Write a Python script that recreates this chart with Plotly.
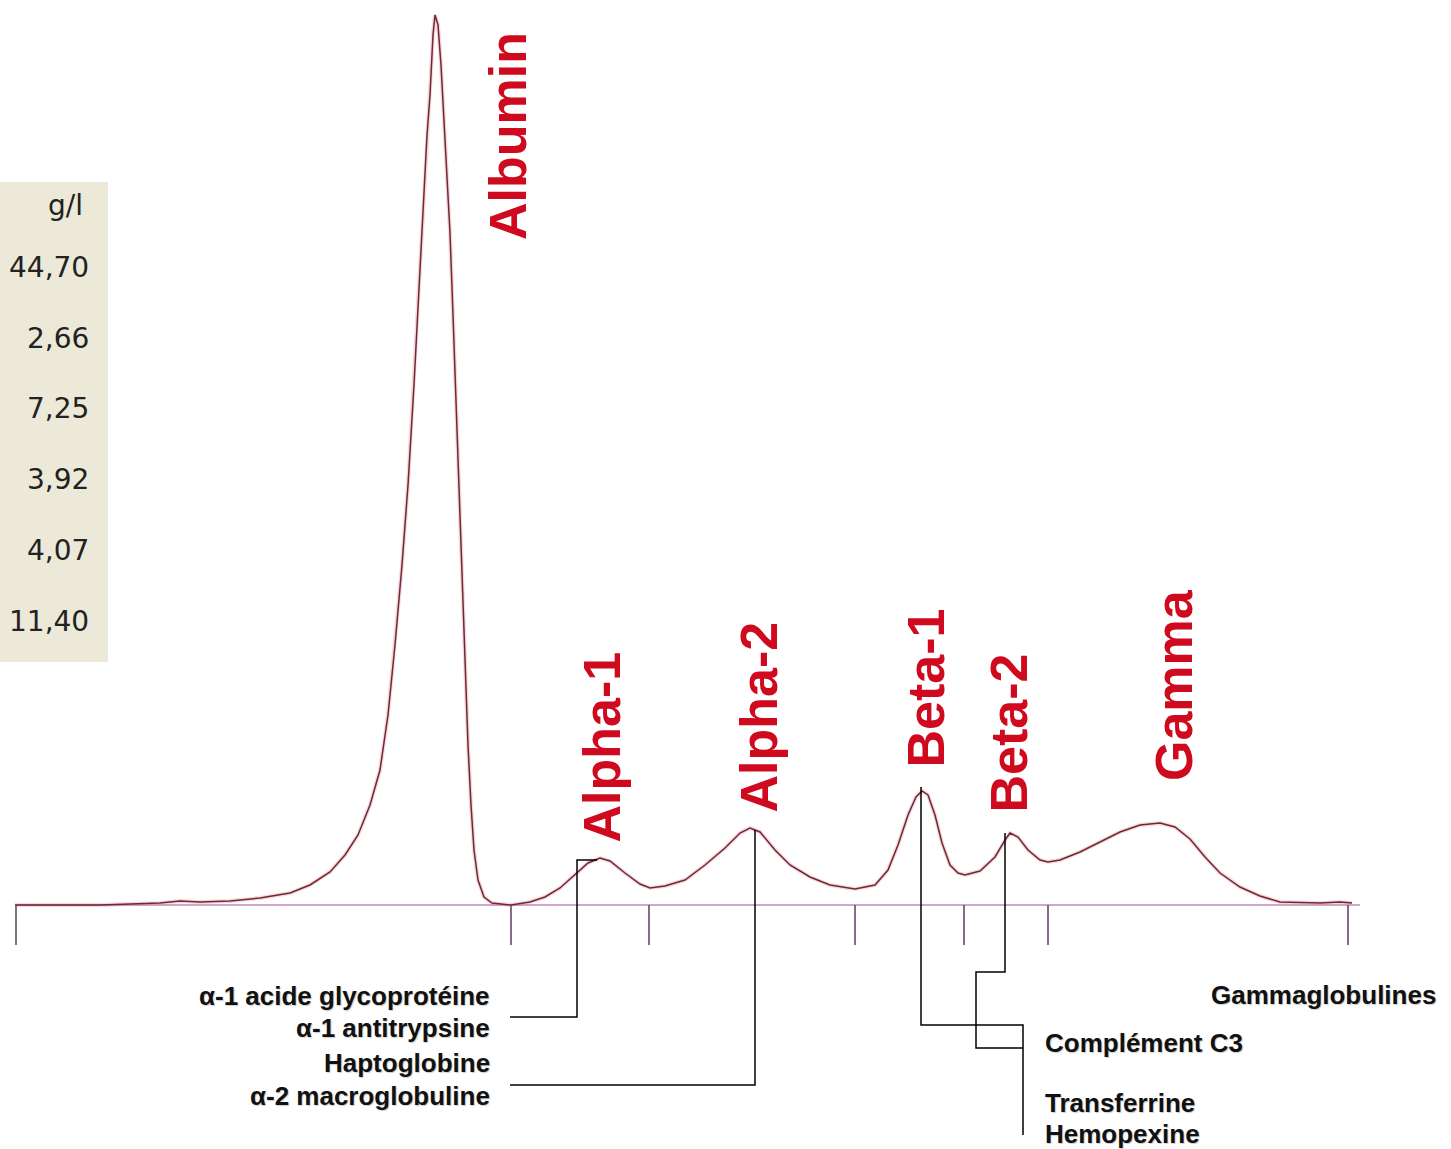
import plotly.graph_objects as go

# ---------------- data ----------------
# densitometry trace: migration position (px units) and density above baseline
pos = [15, 100, 160, 180, 200, 230, 260, 290, 310, 330, 345, 358, 370, 380, 388, 395,
       402, 408, 414, 419, 423, 427, 430, 433, 435, 438, 441, 443, 446, 450, 453, 456,
       459, 462, 465, 468, 471, 474, 478, 484, 492, 511, 530, 545, 560, 575, 588, 600,
       610, 625, 640, 650, 665, 685, 705, 725, 740, 750, 760, 775, 790, 810, 830, 855,
       875, 888, 898, 908, 916, 922, 928, 935, 942, 950, 958, 965, 980, 995, 1005, 1010,
       1018, 1028, 1040, 1048, 1060, 1080, 1100, 1120, 1140, 1160, 1175, 1190, 1205, 1220,
       1240, 1260, 1280, 1320, 1340, 1352]
density = [0, 0, 2, 4, 3, 4, 7, 12, 20, 33, 50, 70, 100, 135, 190, 260,
           340, 420, 520, 620, 690, 770, 810, 870, 890, 880, 840, 805, 750, 672, 590, 500,
           410, 320, 240, 160, 100, 55, 25, 8, 2, 0, 3, 8, 17, 30, 42, 47,
           44, 32, 21, 17, 19, 25, 40, 57, 72, 77, 73, 55, 40, 28, 20, 16,
           20, 35, 60, 90, 108, 114, 110, 90, 62, 40, 32, 30, 34, 48, 65, 72,
           68, 55, 45, 43, 45, 53, 63, 73, 80, 82, 78, 66, 48, 32,
           18, 9, 3, 2, 3, 2]

# fraction boundaries
boundaries = [16, 511, 649, 855, 964, 1048, 1348]

# fraction names and label positions (center x, bottom of rotated text)
fractions = ["Albumin", "Alpha-1", "Alpha-2", "Beta-1", "Beta-2", "Gamma"]
frac_x = [508, 601, 758, 925, 1008, 1174]
frac_y = [663, 60, 90, 135, 90, 122]

# panel values (g/l)
panel_unit = "g/l"
panel_values = ["44,70", "2,66", "7,25", "3,92", "4,07", "11,40"]
panel_y = [638, 567, 497, 426, 355, 284]

# protein labels
left_labels = ["α-1 acide glycoprotéine", "α-1 antitrypsine", "Haptoglobine", "α-2 macroglobuline"]
left_y = [-91, -123, -158, -191]
right_labels = ["Gammaglobulines", "Complément C3", "Transferrine", "Hemopexine"]
right_x = [1438, 1043, 1043, 1043]
right_y = [-90, -138, -198, -229]

# leader lines (x, y)
leaders = [
    ([510, 577, 577, 597], [-112, -112, 45, 45]),
    ([510, 755, 755], [-180, -180, 75]),
    ([921, 921, 1023, 1023], [118, -120, -120, -230]),
    ([1005, 1005, 976, 976, 1023], [72, -67, -67, -143, -143]),
]

RED = "#CF0A1E"

fig = go.Figure()

# baseline
fig.add_trace(go.Scatter(x=[15, 1360], y=[0, 0], mode="lines",
                         line=dict(color="#cfa6cc", width=2), hoverinfo="skip"))
# boundary ticks
for b in boundaries:
    fig.add_trace(go.Scatter(x=[b, b], y=[0, -40], mode="lines",
                             line=dict(color="#5b3d5c", width=1.5), hoverinfo="skip"))
# glow under trace
fig.add_trace(go.Scatter(x=pos, y=density, mode="lines",
                         line=dict(color="rgba(230,120,140,0.3)", width=4), hoverinfo="skip"))
# trace
fig.add_trace(go.Scatter(x=pos, y=density, mode="lines",
                         line=dict(color="#6e2a33", width=1.5), hoverinfo="skip"))
# leaders
for lx, ly in leaders:
    fig.add_trace(go.Scatter(x=lx, y=ly, mode="lines",
                             line=dict(color="black", width=1.5), hoverinfo="skip"))

# beige panel
fig.add_shape(type="rect", x0=0, x1=108, y0=243, y1=723, fillcolor="#ECE9D8",
              line=dict(width=0), layer="below")

SHADOW = "1px 1px 1px rgba(0,0,0,0.2)"
ann = []
ann.append(dict(x=65, y=700, text=panel_unit, showarrow=False, xanchor="center", yanchor="middle",
                font=dict(family="DejaVu Sans", size=28, color="#222")))
for v, y in zip(panel_values, panel_y):
    ann.append(dict(x=91, y=y, text=v, showarrow=False, xanchor="right", yanchor="middle",
                    font=dict(family="DejaVu Sans", size=28, color="#222")))
for t, x, y in zip(fractions, frac_x, frac_y):
    ann.append(dict(x=x, y=y, text="<b>" + t + "</b>", showarrow=False, textangle=-90,
                    xanchor="center", yanchor="bottom",
                    font=dict(family="Liberation Sans, Arial", size=52, color=RED)))
for t, y in zip(left_labels, left_y):
    ann.append(dict(x=492, y=y, text="<b>" + t + "</b>", showarrow=False,
                    xanchor="right", yanchor="middle",
                    font=dict(family="Liberation Sans, Arial", size=26, color="#111", shadow=SHADOW)))
for t, x, y in zip(right_labels, right_x, right_y):
    ann.append(dict(x=x, y=y, text="<b>" + t + "</b>", showarrow=False,
                    xanchor="right" if t == "Gammaglobulines" else "left", yanchor="middle",
                    font=dict(family="Liberation Sans, Arial", size=26, color="#111", shadow=SHADOW)))

fig.update_layout(
    width=1451, height=1149,
    margin=dict(l=0, r=0, t=0, b=0),
    paper_bgcolor="white", plot_bgcolor="white",
    showlegend=False,
    annotations=ann,
    xaxis=dict(range=[0, 1451], visible=False, fixedrange=True),
    yaxis=dict(range=[-244, 905], visible=False, fixedrange=True),
)

fig.write_html("out.html", config={"displayModeBar": False},
               post_script="document.body.style.margin='0';document.body.style.overflow='hidden';")
